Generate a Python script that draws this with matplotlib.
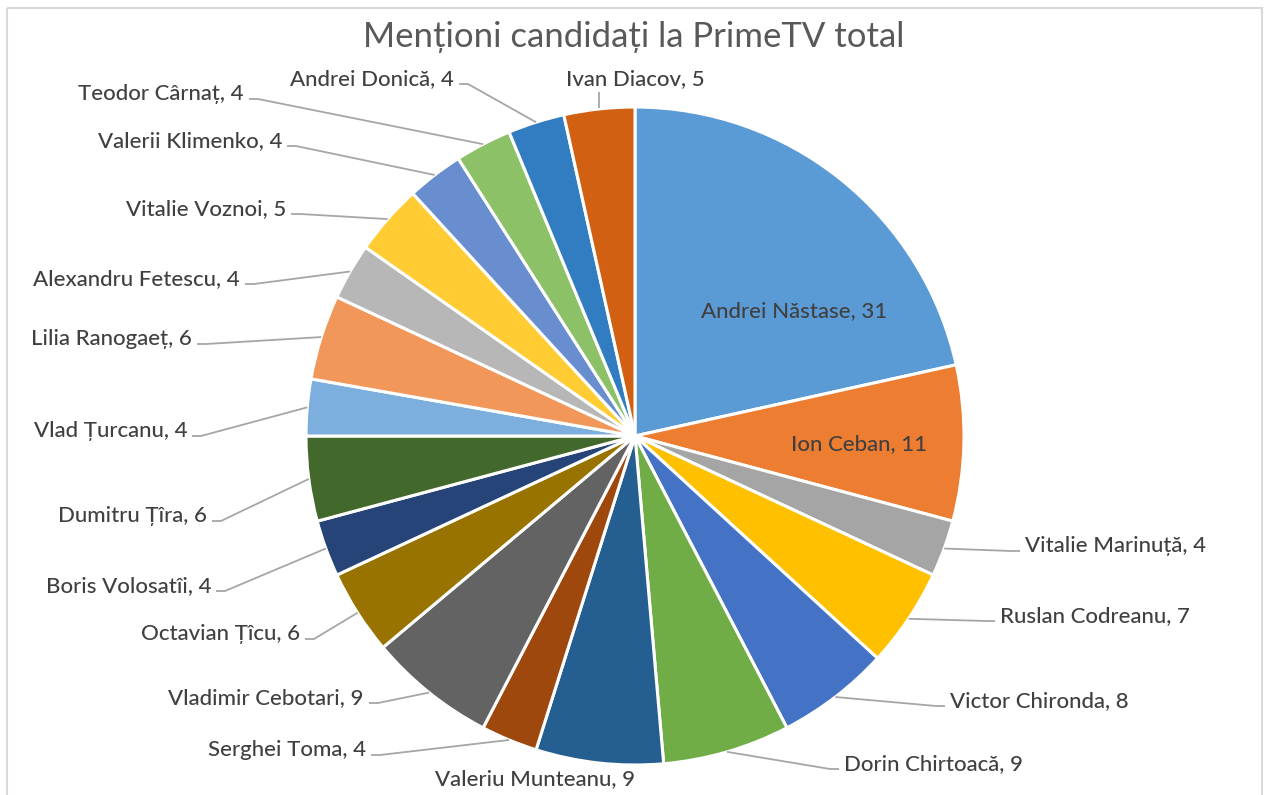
import numpy as np
import matplotlib.pyplot as plt
from matplotlib.patches import Rectangle

plt.rcParams['font.family'] = ['Lato', 'DejaVu Sans']

# date
candidati = ['Andrei Năstase', 'Ion Ceban', 'Vitalie Marinuță', 'Ruslan Codreanu',
             'Victor Chironda', 'Dorin Chirtoacă', 'Valeriu Munteanu', 'Serghei Toma',
             'Vladimir Cebotari', 'Octavian Țîcu', 'Boris Volosatîi', 'Dumitru Țîra',
             'Vlad Țurcanu', 'Lilia Ranogaeț', 'Alexandru Fetescu', 'Vitalie Voznoi',
             'Valerii Klimenko', 'Teodor Cârnaț', 'Andrei Donică', 'Ivan Diacov']
mentiuni = [31, 11, 4, 7, 8, 9, 9, 4, 9, 6, 4, 6, 4, 6, 4, 5, 4, 4, 4, 5]
titlu = 'Menționi candidați la PrimeTV total'

culori = ['#5B9BD5', '#ED7D31', '#A5A5A5', '#FFC000', '#4472C4', '#70AD47',
          '#255E91', '#9E480E', '#636363', '#997300', '#264478', '#43682B',
          '#7CAFDD', '#F1975A', '#B7B7B7', '#FFCD33', '#698ED0', '#8CC168',
          '#327DC2', '#D26012']

# pozitia etichetelor in pixeli (x, y centru text, aliniere, linie de legatura)
etichete = [(794, 310, 'center', False), (859, 443, 'center', False),
            (1025, 545, 'left', True), (1000, 615, 'left', True),
            (950, 700, 'left', True), (844, 763, 'left', True),
            (535, 778, 'center', False), (366, 749, 'right', True),
            (364, 697, 'right', True), (300, 633, 'right', True),
            (211, 585, 'right', True), (207, 515, 'right', True),
            (187, 430, 'right', True), (192, 338, 'right', True),
            (240, 278, 'right', True), (286, 208, 'right', True),
            (282, 140, 'right', True), (244, 93, 'right', True),
            (454, 78, 'right', True), (635, 78, 'center', True)]

W, H = 1266, 795
cx, cy, R = 635, 436, 329

fig = plt.figure(figsize=(W / 100, H / 100), dpi=100)
ax = fig.add_axes([0, 0, 1, 1])

# axa y inversata -> startangle=-90 + counterclock=True = sens orar de sus
wedges, _ = ax.pie(mentiuni, colors=culori, startangle=-90, counterclock=True,
                   center=(cx, cy), radius=R,
                   wedgeprops=dict(edgecolor='white', linewidth=2.2))

ax.set_xlim(0, W)
ax.set_ylim(H, 0)
ax.set_aspect('auto')
ax.axis('off')

gri = '#A6A6A6'
for w, nume, val, (x, y, ha, linie) in zip(wedges, candidati, mentiuni, etichete):
    unghi = np.deg2rad((w.theta1 + w.theta2) / 2)
    px = cx + R * np.cos(unghi)
    py = cy + R * np.sin(unghi)
    ax.text(x, y + 7, f'{nume}, {val}', ha=ha, va='baseline', fontsize=16,
            color='#404040', fontweight='medium')
    if not linie:
        continue
    ly = y + 6
    if ha == 'right':
        xs = [px, x + 14, x + 5]
        ys = [py, ly, ly]
    elif ha == 'left':
        xs = [px, x - 14, x - 5]
        ys = [py, ly, ly]
    else:
        xs = [px, px]
        ys = [py - 1, y + 14]
    ax.plot(xs, ys, color=gri, linewidth=1.3, solid_capstyle='butt')

ax.text(634, 47, titlu, ha='center', va='baseline', fontsize=25, color='#595959')

ax.add_patch(Rectangle((6.5, 7.5), 1255, 820, fill=False, edgecolor='#D9D9D9',
                       linewidth=1.5, clip_on=False))

plt.savefig('out.png', dpi=100)
